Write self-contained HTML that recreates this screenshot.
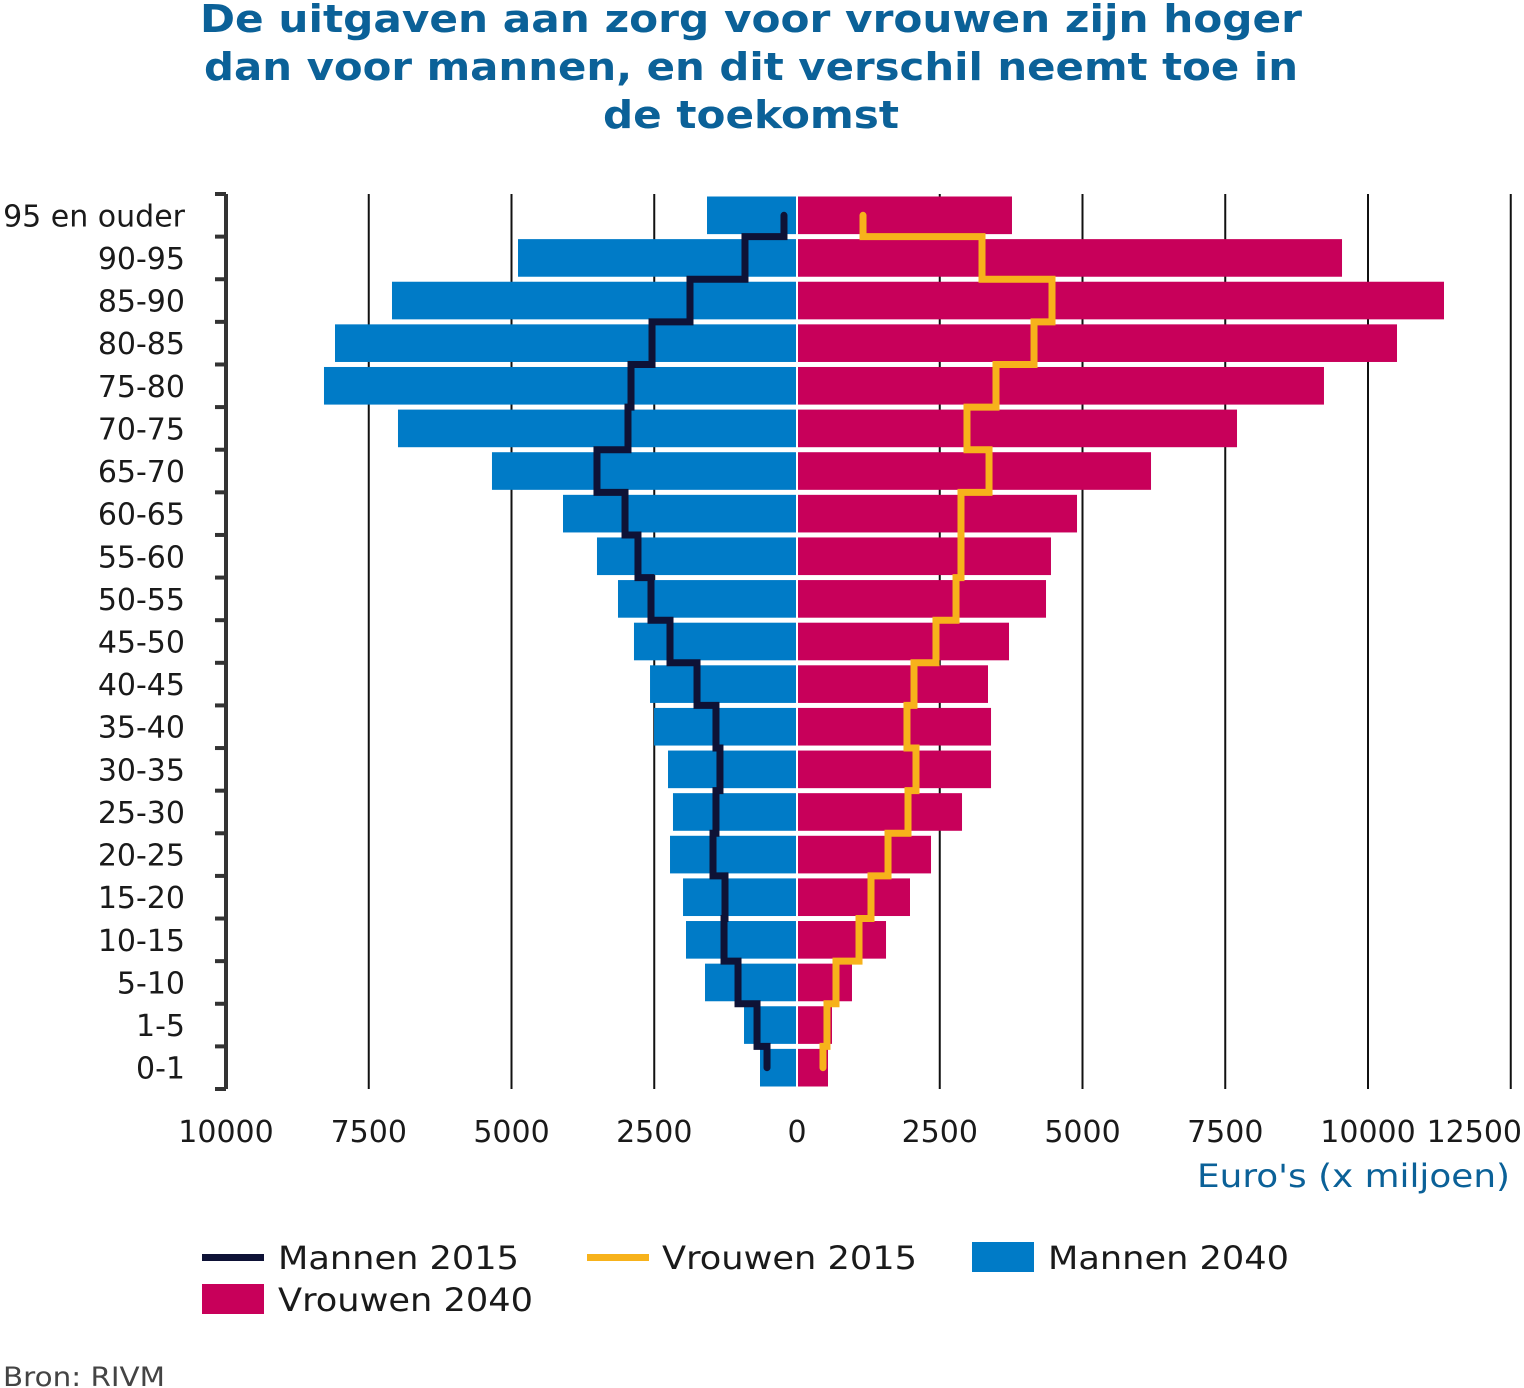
<!DOCTYPE html>
<html><head><meta charset="utf-8"><style>
html,body{margin:0;padding:0;background:#fff;}
svg{display:block;font-family:"DejaVu Sans","Liberation Sans",sans-serif;}
</style></head><body>
<svg id="chart" width="1524" height="1388" viewBox="0 0 1524 1388" xmlns="http://www.w3.org/2000/svg">
<g fill="#0b6198" font-weight="bold" font-size="38" text-anchor="middle">
<text x="751" y="32" textLength="1102" lengthAdjust="spacingAndGlyphs">De uitgaven aan zorg voor vrouwen zijn hoger</text>
<text x="751" y="80" textLength="1094" lengthAdjust="spacingAndGlyphs">dan voor mannen, en dit verschil neemt toe in</text>
<text x="751" y="128" textLength="296" lengthAdjust="spacingAndGlyphs">de toekomst</text>
</g>
<g id="grid"></g>
<g id="bars"></g>
<g id="lines"></g>
<g id="axes"></g>
<text x="1197" y="1187" textLength="313" lengthAdjust="spacingAndGlyphs" font-size="32" fill="#0b6198">Euro's (x miljoen)</text>
<g font-size="32" fill="#1a1a1a">
<g><rect x="202" y="1254" width="62" height="7" fill="#0e1236"/><text x="278" y="1269" textLength="241" lengthAdjust="spacingAndGlyphs">Mannen 2015</text></g>
<g><rect x="587" y="1254" width="62" height="7" fill="#f7b21b"/><text x="662" y="1269" textLength="255" lengthAdjust="spacingAndGlyphs">Vrouwen 2015</text></g>
<g><rect x="972" y="1242" width="62" height="30" fill="#007bc7"/><text x="1048" y="1269" textLength="241" lengthAdjust="spacingAndGlyphs">Mannen 2040</text></g>
<g><rect x="202" y="1284" width="62" height="30" fill="#c8005a"/><text x="278" y="1311" textLength="255" lengthAdjust="spacingAndGlyphs">Vrouwen 2040</text></g>
</g>
<text x="3" y="1386" font-size="27" fill="#444" textLength="162" lengthAdjust="spacingAndGlyphs">Bron: RIVM</text>
</svg>
<script>
const categories = ["95 en ouder","90-95","85-90","80-85","75-80","70-75","65-70","60-65","55-60","50-55","45-50","40-45","35-40","30-35","25-30","20-25","15-20","10-15","5-10","1-5","0-1"];
const mannen2040 = [1576,4886,7093,8091,8284,6988,5342,4098,3503,3135,2855,2574,2504,2259,2172,2224,1996,1944,1611,928,648];
const vrouwen2040 = [3765,9545,11331,10508,9229,7706,6200,4904,4448,4361,3713,3345,3398,3398,2890,2347,1979,1559,963,613,543];
const mannen2015 = [228,911,1874,2539,2907,2960,3503,3012,2785,2557,2224,1751,1419,1349,1419,1471,1261,1278,1033,700,525];
const vrouwen2015 = [1156,3240,4466,4151,3485,2977,3363,2872,2872,2785,2434,2049,1926,2084,1944,1594,1296,1086,683,525,455];
const leftTicks = [10000,7500,5000,2500];
const rightTicks = [0,2500,5000,7500,10000,12500];

const NS="http://www.w3.org/2000/svg";
const X0=797, PX=0.0571, TOP=194, BOT=1089;
const rowH=(BOT-TOP)/categories.length;
const xr=v=>X0+v*PX, xl=v=>X0-v*PX;
const yTop=i=>TOP+i*rowH, yMid=i=>TOP+(i+0.5)*rowH;
function mk(tag,attrs,parent){const e=document.createElementNS(NS,tag);for(const k in attrs)e.setAttribute(k,attrs[k]);parent.appendChild(e);return e;}
const grid=document.getElementById('grid'),bars=document.getElementById('bars'),lines=document.getElementById('lines'),axes=document.getElementById('axes');

[7500,5000,2500].forEach(v=>{
  const l=mk('line',{x1:xl(v),x2:xl(v),y1:TOP,y2:BOT,stroke:'#111','stroke-width':2},grid);
  
  
});
[2500,5000,7500,10000,12500].forEach(v=>{
  const l=mk('line',{x1:xr(v),x2:xr(v),y1:TOP,y2:BOT,stroke:'#111','stroke-width':2},grid);
  
  
});

categories.forEach((c,i)=>{
  const y=yTop(i)+2.5, h=rowH-5;
  const b=mk('rect',{x:xl(mannen2040[i]),y:y,width:mannen2040[i]*PX-1,height:h,fill:'#007bc7'},bars);
  
  
  const p=mk('rect',{x:X0+1,y:y,width:vrouwen2040[i]*PX-1,height:h,fill:'#c8005a'},bars);
  
  
  const t=mk('text',{x:185,y:yMid(i)+11,'text-anchor':'end','font-size':30,fill:'#1a1a1a'},axes);
  t.textContent=c;
  
  
});

function stepPath(vals,fx){
  let d='';const n=vals.length;
  for(let i=0;i<n;i++){
    const x=fx(vals[i]);
    const y1=i===0?yMid(0):yTop(i), y2=i===n-1?yMid(i):yTop(i+1);
    d+=(i===0?'M':'L')+x+' '+y1+' L'+x+' '+y2+' ';
  }
  return d;
}
const m=mk('path',{d:stepPath(mannen2015,xl),fill:'none',stroke:'#0e1236','stroke-width':7,'stroke-linecap':'round','stroke-linejoin':'miter'},lines);


const w=mk('path',{d:stepPath(vrouwen2015,xr),fill:'none',stroke:'#f7b21b','stroke-width':7,'stroke-linecap':'round','stroke-linejoin':'miter'},lines);



const ax=mk('line',{x1:226,x2:226,y1:TOP,y2:BOT,stroke:'#333','stroke-width':4},axes);


for(let i=0;i<=categories.length;i++){
  const tk=mk('line',{x1:215,x2:226,y1:yTop(i),y2:yTop(i),stroke:'#333','stroke-width':4},axes);
  
  
}
leftTicks.forEach(v=>{
  const t=mk('text',{x:xl(v),y:1142,'text-anchor':'middle','font-size':30,fill:'#1a1a1a'},axes);
  t.textContent=String(v);
  
  
});
rightTicks.forEach(v=>{
  const last = v===rightTicks[rightTicks.length-1];
  const t=mk('text',{x:last?1522:xr(v),y:1142,'text-anchor':last?'end':'middle','font-size':30,fill:'#1a1a1a'},axes);
  t.textContent=String(v);
  
  
});
</script>
</body></html>
